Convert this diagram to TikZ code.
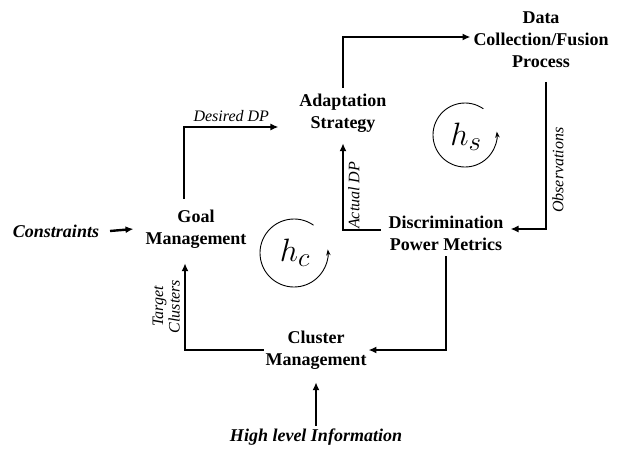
\documentclass[tikz,border=0pt]{standalone}
\usepackage{fontspec}
\setmainfont{Liberation Serif}
\usetikzlibrary{arrows.meta,calc}
\begin{document}
\begin{tikzpicture}[x=1pt,y=-1pt,
  box/.style={font=\fontsize{18}{22}\selectfont\bfseries, align=center, inner sep=0pt, outer sep=0pt},
  ext/.style={font=\fontsize{18}{22}\selectfont\bfseries\itshape, inner sep=0pt, outer sep=0pt},
  lab/.style={font=\fontsize{16}{16.5}\selectfont\itshape, inner sep=0pt, align=center},
  arr/.style={line width=2.4pt, -{Latex[length=8pt,width=7pt]}},
  loop/.style={line width=0.9pt, -{Stealth[length=6pt,width=4.5pt]}},
  sym/.style={font=\fontsize{24.88}{30}\selectfont, inner sep=0pt}]
\useasboundingbox (0,0) rectangle (624,450);

\node[box] (data) at (541,40) {Data\\Collection/Fusion\\Process};
\node[box] (adapt) at (343,113) {Adaptation\\Strategy};
\node[box] (goal) at (196,229) {Goal\\Management};
\node[box] (disc) at (446,233) {Discrimination\\Power Metrics};
\node[box] (cluster) at (316,350) {Cluster\\Management};
\node[ext] (cons) at (56,231) {Constraints};
\node[ext] (high) at (316,437) {High level Information};

\draw[arr] ([yshift=6pt]adapt.north) |- ([xshift=-3pt,yshift=3pt]data.west);
\draw[arr] ([xshift=-12pt,yshift=11pt]goal.north) |- ([xshift=-21pt,yshift=-14pt]adapt.west)
  node[lab, pos=0.75, above=4pt] (ddp) {Desired DP};
\draw[arr] ([xshift=5pt,yshift=-14pt]data.south) |- ([xshift=7pt,yshift=4pt]disc.east)
  node[lab, pos=0.3, rotate=90, below=5pt] (obs) {Observations};
\draw[arr] ([xshift=-8pt,yshift=3pt]disc.west) -| ([yshift=-11pt]adapt.south)
  node[lab, pos=0.7, rotate=90, below=4pt] (adp) {Actual DP};
\draw[arr] ([yshift=-6pt]disc.south) |- ([xshift=2pt]cluster.east);
\draw[arr] ([xshift=-2pt]cluster.west) -| ([xshift=-11pt,yshift=-15pt]goal.south)
  node[lab, pos=0.75, rotate=90, above=4pt] (tc) {Target\\Clusters};
\draw[arr] ([xshift=11pt]cons.east) -- ([xshift=-12pt]goal.west);
\draw[arr] ([yshift=3pt]high.north) -- ([yshift=-13pt]cluster.south);

\node[sym] (hc) at (295,253) {\scalebox{1.3}{$h_c$}};
\draw[loop] (294,253) ++(-55:34) arc[start angle=-55, end angle=-366, radius=34];
\node[sym] (hs) at (466,137) {\scalebox{1.3}{$h_s$}};
\draw[loop] (465,135) ++(-55:32) arc[start angle=-55, end angle=-366, radius=32];
\end{tikzpicture}
\end{document}
